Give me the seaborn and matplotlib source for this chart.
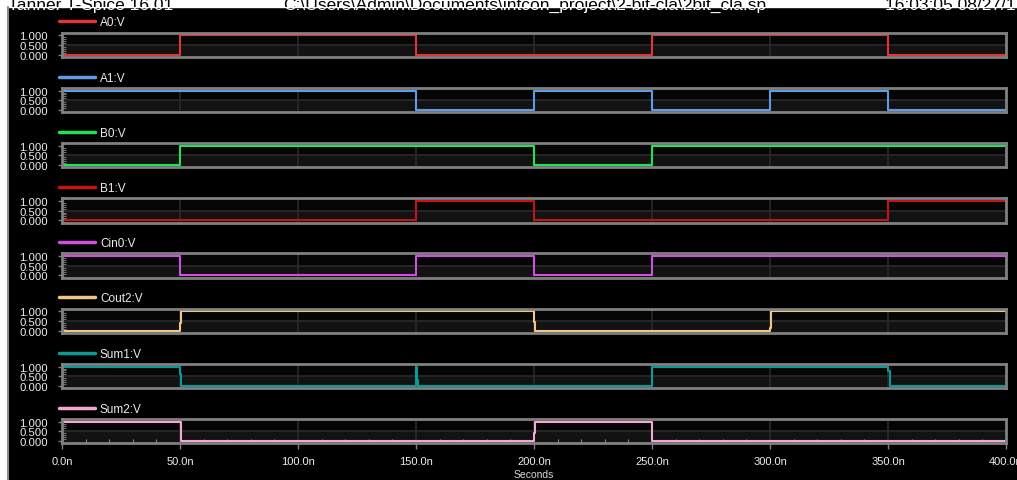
import numpy as np
import pandas as pd
import matplotlib
matplotlib.use('Agg')
import matplotlib.pyplot as plt
import seaborn as sns
from matplotlib.patches import Rectangle
from matplotlib.lines import Line2D
from matplotlib.ticker import MultipleLocator, FuncFormatter
from matplotlib.transforms import Bbox

# signal names and trace colours (top to bottom)
names = ['A0:V', 'A1:V', 'B0:V', 'B1:V', 'Cin0:V', 'Cout2:V', 'Sum1:V', 'Sum2:V']
colors = ['#e0353a', '#5e9de6', '#1ee35a', '#c41414', '#d24ee0', '#f2c586', '#0a9a9a', '#f4a6d4']

# breakpoints (ns) and levels (V), held until the next breakpoint
a0_t = [0, 50, 150, 250, 350, 400]
a0_v = [0, 1, 0, 1, 0, 0]
a1_t = [0, 150, 200, 250, 300, 350, 400]
a1_v = [1, 0, 1, 0, 1, 0, 0]
b0_t = [0, 50, 200, 250, 400]
b0_v = [0, 1, 0, 1, 1]
b1_t = [0, 150, 200, 350, 400]
b1_v = [0, 1, 0, 1, 1]
cin0_t = [0, 50, 150, 200, 250, 400]
cin0_v = [1, 0, 1, 0, 1, 1]
cout2_t = [0, 50, 50.6, 200, 200.6, 300, 300.6, 400]
cout2_v = [0, 0.4, 1, 0.45, 0, 0.15, 1, 1]
sum1_t = [0, 50, 50.6, 150, 150.4, 150.8, 250, 350, 350.7, 400]
sum1_v = [1, 0.6, 0, 1, 0.3, 0, 1, 0.75, 0, 0]
sum2_t = [0, 50.5, 200, 200.6, 250, 400]
sum2_v = [1, 0, 0.4, 1, 0, 0]

times = [a0_t, a1_t, b0_t, b1_t, cin0_t, cout2_t, sum1_t, sum2_t]
values = [a0_v, a1_v, b0_v, b1_v, cin0_v, cout2_v, sum1_v, sum2_v]

x_ticks = [0, 50, 100, 150, 200, 250, 300, 350, 400]
y_ticks = [0.0, 0.5, 1.0]

sns.set_style('dark', {'axes.facecolor': '#050505', 'figure.facecolor': 'black'})
plt.rcParams['font.family'] = ['Liberation Sans', 'DejaVu Sans']

W, H = 1017, 481
fig = plt.figure(figsize=(W / 100, H / 100), dpi=100, facecolor='black')

# window chrome: white strip left / top, grey border line
fig.add_artist(Rectangle((0, 0), 6.5 / W, 1, transform=fig.transFigure, color='white', zorder=5))
fig.add_artist(Line2D([7.5 / W, 7.5 / W], [0, 1 - 8 / H], transform=fig.transFigure,
                      color='#8a8a8a', lw=1.5, zorder=5))
fig.add_artist(Rectangle((0, 1 - 8 / H), 1, 8 / H, transform=fig.transFigure, color='white', zorder=1))

# header text, only its lower part shows under the white strip
band = Bbox.from_extents(0, H - 8, W, H)
below = Bbox.from_extents(0, 0, W, H - 8)
for txt, xp in [('Tanner T-Spice 16.01', 8),
                ('C:\\Users\\Admin\\Documents\\intcon_project\\2-bit-cla\\2bit_cla.sp', 283),
                ('16:03:05 08/27/17', 885)]:
    for col, box in [('black', band), ('white', below)]:
        t = fig.text(xp / W, 1 - 10 / H, txt, color=col, fontsize=12.5, va='baseline', ha='left', zorder=6)
        t.set_clip_box(box)
        t.set_clip_on(True)

left_px, right_px = 62, 1006
top0, pitch, ph = 33.5, 55.2, 24.5
ylo, yhi = -0.12, 1.15
grid_c = '#2a2a2a'
frame_c = '#808080'

for i, (name, c, t, v) in enumerate(zip(names, colors, times, values)):
    top = top0 + i * pitch
    ax = fig.add_axes([left_px / W, 1 - (top + ph) / H, (right_px - left_px) / W, ph / H])
    ax.set_facecolor('#050505')
    ax.axhspan(ylo, 0.5, color='#121212', zorder=0, lw=0)
    df = pd.DataFrame({'t': t, 'v': v})
    sns.lineplot(data=df, x='t', y='v', ax=ax, color=c, drawstyle='steps-post', lw=1.5,
                 estimator=None, sort=False, label=name, zorder=3)
    ax.set_xlim(0, 400)
    ax.set_ylim(ylo, yhi)
    for xg in x_ticks[1:-1]:
        ax.axvline(xg, color=grid_c, lw=1.2, zorder=1)
    ax.axhline(0.5, color=grid_c, lw=1.2, zorder=1)
    for s in ax.spines.values():
        s.set_visible(True)
        s.set_color(frame_c)
        s.set_linewidth(2)
        s.set_zorder(4)
    ax.set_yticks(y_ticks)
    ax.yaxis.set_major_formatter(FuncFormatter(lambda y, p: '%.3f' % y))
    ax.yaxis.set_minor_locator(MultipleLocator(0.1))
    ax.tick_params(axis='y', which='major', left=True, direction='out', length=3, width=1,
                   color=frame_c, labelsize=8.2, labelcolor='#ececec', pad=7)
    ax.tick_params(axis='y', which='minor', left=True, direction='in', length=3, width=0.8,
                   color='#707070')
    ax.set_ylabel('Volts', fontsize=5.5, color='#d0d0d0')
    ax.yaxis.set_label_coords(-(left_px - 12) / (right_px - left_px), 0.5)
    ax.set_xticks(x_ticks)
    ax.grid(False)
    if i < len(names) - 1:
        ax.tick_params(axis='x', which='both', bottom=False, labelbottom=False)
        ax.set_xlabel('')
    else:
        ax.xaxis.set_major_formatter(FuncFormatter(lambda x, p: '%.1fn' % x))
        ax.xaxis.set_minor_locator(MultipleLocator(10))
        ax.tick_params(axis='x', which='major', bottom=True, direction='out', length=4, width=1,
                       color=frame_c, labelsize=8, labelcolor='#ececec', pad=5)
        ax.tick_params(axis='x', which='minor', bottom=True, direction='in', length=3, width=0.8,
                       color='#8a8a8a')
        ax.set_xlabel('Seconds', fontsize=7.5, color='#d8d8d8', labelpad=2)
    leg = ax.legend(loc='center left', bbox_to_anchor=(-0.003, 1 + 10 / ph), frameon=False,
                    fontsize=8.5, handlelength=3.0, handletextpad=0.45, borderpad=0, borderaxespad=0)
    for txt in leg.get_texts():
        txt.set_color('#ececec')
    for ln in leg.get_lines():
        ln.set_linewidth(2.5)

fig.savefig('out.png', dpi=100, facecolor='black')
